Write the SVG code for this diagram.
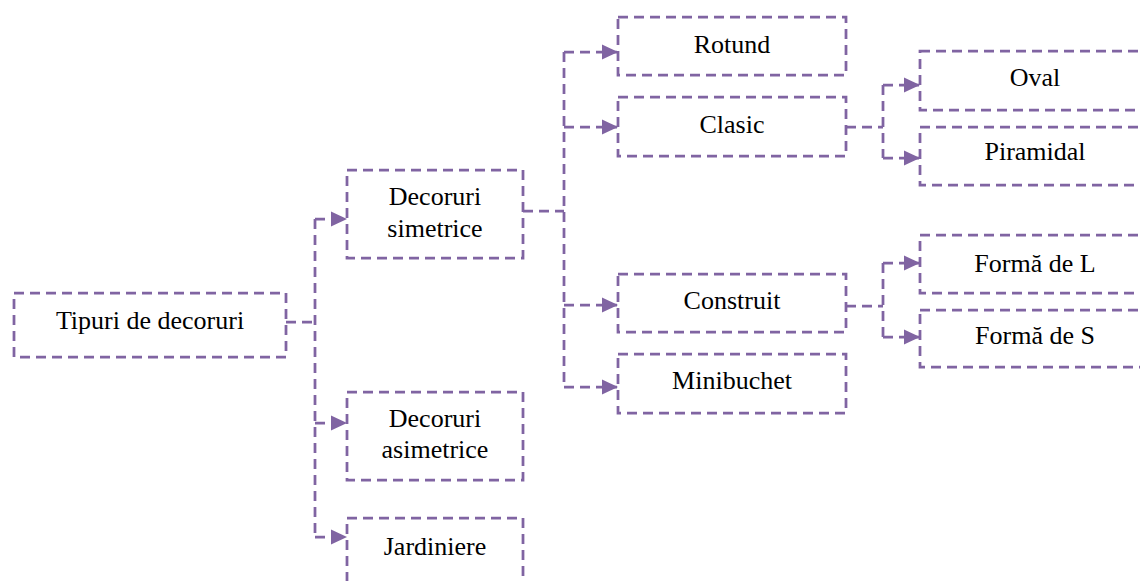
<svg xmlns="http://www.w3.org/2000/svg" width="1140" height="581" viewBox="0 0 1140 581">
<style>
.box{fill:#fff;stroke:#8064A2;stroke-width:2.75;stroke-dasharray:10 6}
.c{fill:none;stroke:#8064A2;stroke-width:2.75;stroke-dasharray:10 6}
.a{fill:none;stroke:#8064A2;stroke-width:2.75;stroke-dasharray:10 6;marker-end:url(#arr)}
text{font-family:"Liberation Serif","Times New Roman",serif;font-size:26px;fill:#000;text-anchor:middle}
</style>
<defs>
<marker id="arr" markerUnits="userSpaceOnUse" markerWidth="16" markerHeight="16" refX="15" refY="8" orient="auto">
<path d="M0,0.5 L16,8 L0,15.5 Z" fill="#8064A2"/>
</marker>
</defs>
<rect width="1140" height="581" fill="#fff"/>
<g id="connectors">
<path class="c" d="M286,322 H315"/>
<path class="c" d="M315,219 V537"/>
<path class="a" d="M315,219 H346"/>
<path class="a" d="M315,423 H346"/>
<path class="a" d="M315,537 H346"/>
<path class="c" d="M523,211 H564"/>
<path class="c" d="M564,52 V387"/>
<path class="a" d="M564,52 H617"/>
<path class="a" d="M564,127 H617"/>
<path class="a" d="M564,305 H617"/>
<path class="a" d="M564,387 H617"/>
<path class="c" d="M846,127 H883"/>
<path class="c" d="M883,85 V158"/>
<path class="a" d="M883,85 H919"/>
<path class="a" d="M883,158 H919"/>
<path class="c" d="M846,306 H883"/>
<path class="c" d="M883,263 V337"/>
<path class="a" d="M883,263 H919"/>
<path class="a" d="M883,337 H919"/>
</g>
<g id="n-tipuri"><rect class="box" x="14" y="293" width="272" height="64"/><text x="150" y="329">Tipuri de decoruri</text></g>
<g id="n-simetrice"><rect class="box" x="347" y="170" width="176" height="88"/><text x="435" y="205">Decoruri</text><text x="435" y="237">simetrice</text></g>
<g id="n-asimetrice"><rect class="box" x="347" y="392" width="176" height="88"/><text x="435" y="427">Decoruri</text><text x="435" y="458">asimetrice</text></g>
<g id="n-jardiniere"><rect class="box" x="347" y="518" width="176" height="88"/><text x="435" y="555">Jardiniere</text></g>
<g id="n-rotund"><rect class="box" x="618" y="17" width="228" height="58"/><text x="732" y="53">Rotund</text></g>
<g id="n-clasic"><rect class="box" x="618" y="97" width="228" height="59"/><text x="732" y="133">Clasic</text></g>
<g id="n-construit"><rect class="box" x="618" y="274" width="228" height="58"/><text x="732" y="309">Construit</text></g>
<g id="n-minibuchet"><rect class="box" x="618" y="354" width="228" height="59"/><text x="732" y="389">Minibuchet</text></g>
<g id="n-oval"><rect class="box" x="920" y="51" width="230" height="59"/><text x="1035" y="86">Oval</text></g>
<g id="n-piramidal"><rect class="box" x="920" y="127" width="230" height="58"/><text x="1035" y="160">Piramidal</text></g>
<g id="n-formaL"><rect class="box" x="920" y="235" width="230" height="58"/><text x="1035" y="272">Formă de L</text></g>
<g id="n-formaS"><rect class="box" x="920" y="310" width="230" height="57"/><text x="1035" y="344">Formă de S</text></g>
</svg>
